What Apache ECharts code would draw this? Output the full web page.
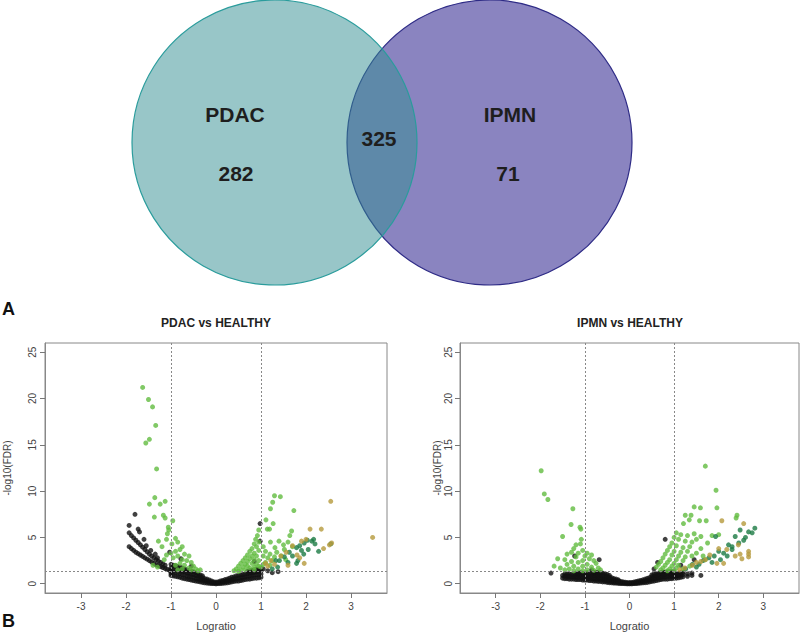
<!DOCTYPE html>
<html><head><meta charset="utf-8">
<script src="https://cdn.jsdelivr.net/npm/echarts@6/dist/echarts.min.js"></script>
<style>html,body{margin:0;padding:0;background:#fff}#c{width:800px;height:632px}</style>
</head><body><div id="c"></div>
<script>
// ---- Venn data ----
const vennSets = ['PDAC', 'IPMN'];
const vennCounts = [282, 325, 71]; // PDAC only, shared, IPMN only

// ---- Volcano plot settings ----
const panelTitles = ['PDAC vs HEALTHY', 'IPMN vs HEALTHY'];
const xTicks = [-3, -2, -1, 0, 1, 2, 3];
const yTicks = [0, 5, 10, 15, 20, 25];
const xThresholds = [-1, 1];
const yThreshold = 1.3;

// ---- PDAC vs HEALTHY ----
const pdacBlackPts = [
[-1.93,4.0],[-1.88,3.8],[-1.83,3.6],[-1.78,3.4],[-1.73,3.25],[-1.68,3.1],[-1.63,2.95],[-1.58,2.8],[-1.53,2.65],[-1.48,2.5],[-1.43,2.35],[-1.38,2.2],[-1.33,2.05],[-1.28,1.95],[-1.23,1.85],[-1.18,1.75],[-1.13,1.65],[-1.08,1.55],[-1.03,1.45],
[-1.93,5.5],[-1.88,5.2],[-1.83,4.95],[-1.78,4.7],[-1.73,4.45],[-1.68,4.2],[-1.63,3.95],[-1.58,3.7],[-1.53,3.45],[-1.48,3.2],[-1.43,3.0],[-1.38,2.8],[-1.33,2.6],[-1.28,2.45],[-1.23,2.3],[-1.18,2.15],[-1.13,2.0],
[-1.8,7.5],[-1.93,6.3],[-1.73,5.9],[-1.70,5.6],[-1.6,4.8],[-1.55,4.1],[-1.45,3.6],[-1.35,3.2],[-1.3,2.8],[-1.03,3.4],[-0.78,2.7],[-0.55,1.9],[0.98,6.5],[0.98,4.6],[0.85,2.4],[1.38,1.3],[-1.0,1.1],[1.05,1.6],[1.15,1.4],[1.25,1.2]
];
const pdacBlackCols = [
[-1.00,[0.9,1.3,1.7,2.1]],[-0.95,[0.85,1.25,1.65,2.0]],[-0.90,[0.8,1.2,1.6,1.95]],[-0.85,[0.75,1.15,1.5,1.85]],
[-0.80,[0.7,1.1,1.45,1.8]],[-0.75,[0.6,1.0,1.35,1.7]],[-0.70,[0.55,0.95,1.3,1.6]],[-0.65,[0.5,0.85,1.2,1.5]],
[-0.60,[0.45,0.8,1.15,1.45]],[-0.55,[0.4,0.75,1.05,1.35]],[-0.50,[0.35,0.7,1.0,1.3]],[-0.45,[0.3,0.6,0.9,1.2]],
[-0.40,[0.25,0.55,0.85,1.1]],[-0.35,[0.2,0.45,0.75,0.95]],[-0.30,[0.15,0.4,0.65,0.85]],[-0.25,[0.1,0.35,0.55]],
[-0.20,[0.08,0.3,0.5]],[-0.15,[0.05,0.2,0.4]],[-0.10,[0.03,0.15,0.3]],[-0.05,[0.02,0.1,0.2]],[0.00,[0.0,0.08,0.18]],
[0.05,[0.02,0.1,0.2]],[0.10,[0.03,0.15,0.3]],[0.15,[0.05,0.2,0.35]],[0.20,[0.08,0.25,0.45]],[0.25,[0.1,0.3,0.5]],
[0.30,[0.15,0.35,0.6]],[0.35,[0.2,0.45,0.7]],[0.40,[0.25,0.5,0.75]],[0.45,[0.3,0.55,0.85]],[0.50,[0.3,0.6,0.9]],
[0.55,[0.35,0.65,0.95]],[0.60,[0.4,0.7,1.0]],[0.65,[0.45,0.75,1.05]],[0.70,[0.5,0.8,1.1,1.35]],[0.75,[0.5,0.85,1.15,1.4]],
[0.80,[0.55,0.9,1.2,1.45]],[0.85,[0.6,0.95,1.25,1.5]],[0.90,[0.6,1.0,1.3,1.55]],[0.95,[0.65,1.0,1.35,1.6]],[1.00,[0.7,1.05,1.4,1.65]]
];
const pdacLightGreen = [
[-1.63,21.2],[-1.5,19.9],[-1.41,19.1],[-1.34,17.1],[-1.48,15.6],[-1.56,15.2],[-1.32,12.4],[-1.36,9.3],[-1.48,8.6],[-1.24,8.6],[-1.13,8.9],[-1.37,7.2],[-1.17,7.4],[-1.13,7.1],[-0.96,6.8],[-1.06,6.1],[-1.05,5.8],[-1.08,5.4],[-1.28,4.6],[-1.1,4.8],[-0.9,4.9],[-0.85,4.5],[-0.98,4.3],[-1.2,4.0],[-0.75,4.0],[-0.8,3.7],[-0.9,3.5],[-1.0,3.3],[-1.1,3.1],[-0.7,3.2],[-0.6,3.0],[-0.85,3.0],[-0.95,2.8],[-1.15,2.6],[-0.75,2.6],[-0.65,2.5],[-0.55,2.3],[-0.8,2.2],[-0.9,2.0],[-0.7,2.0],[-0.5,1.9],[-0.6,1.7],[-0.45,1.6],[-0.75,1.6],[-0.85,1.5],[-1.4,2.0],[-1.3,1.8],[-0.4,1.4],[-0.35,1.5],[-0.55,1.5],
[1.30,9.5],[1.43,9.4],[1.26,8.8],[1.21,8.1],[1.73,7.9],[1.11,6.9],[1.27,6.5],[1.19,5.9],[1.14,5.9],[1.68,5.7],[1.64,5.2],[1.40,4.6],[1.21,4.5],[1.31,3.9],[1.52,3.7],
[0.95,5.8],[0.92,5.2],[0.88,4.8],[0.95,4.5],[0.85,4.3],[0.9,4.0],[0.8,3.8],[0.75,3.5],[0.95,3.6],[0.85,3.3],[0.7,3.1],[0.8,3.0],[0.9,3.0],[0.65,2.8],[0.75,2.7],[0.85,2.6],[0.95,2.5],[0.6,2.5],[0.7,2.4],[0.55,2.2],[0.65,2.1],[0.8,2.2],[0.9,2.1],[0.5,1.9],[0.6,1.8],[0.7,1.9],[0.75,1.7],[0.85,1.8],[0.95,1.9],[0.45,1.6],[0.55,1.5],[0.65,1.5],[0.4,1.4],[0.5,1.35],[0.85,1.5],
[1.05,4.0],[1.1,3.5],[1.2,3.2],[1.05,3.0],[1.15,2.8],[1.3,2.9],[1.25,2.5],[1.1,2.3],[1.05,2.1],[1.35,3.4],[1.5,4.2],[1.55,2.6],[1.45,3.0],[1.0,1.8],[1.7,4.0],[1.6,4.5],[1.2,2.0]
];
const pdacDarkGreen = [
[1.79,3.9],[1.86,4.1],[1.96,4.4],[2.03,4.7],[2.13,4.6],[2.17,4.8],[1.63,3.4],[1.52,2.9],[1.41,2.5],[1.33,2.5],[1.37,1.8],[1.82,2.5],[1.79,2.2],[1.60,2.3],[2.05,3.7],[2.55,4.3],[2.28,3.5],[1.95,3.2],[1.7,3.0],[1.9,3.6],[1.25,1.6],[2.2,4.3]
];
const pdacGold = [
[2.55,8.9],[2.09,5.9],[2.34,5.9],[3.48,5.0],[2.57,4.4],[2.39,3.8],[1.90,4.6],[2.00,4.8],[1.70,4.1],[1.56,3.4],[1.44,3.0],[1.22,2.5],[1.10,2.2],[1.80,3.1],[1.96,2.2],[1.60,2.0],[1.86,2.8],[1.15,1.9],[1.3,2.1],[2.52,4.2]
];

// ---- IPMN vs HEALTHY ----
const ipmnBlackPts = [
[-1.76,1.15],[-1.23,3.0],[-0.68,2.6],[0.8,4.8],[0.63,2.3],[1.45,2.6],[1.15,2.0],[1.6,0.9],[0.55,1.6],[-0.85,1.5]
];
const ipmnBlackCols = [
[-1.50,[0.6,0.9]],[-1.45,[0.55,0.85,1.05]],[-1.40,[0.55,0.8,1.05]],[-1.35,[0.5,0.8,1.05]],[-1.30,[0.5,0.75,1.0]],
[-1.25,[0.5,0.75,1.0]],[-1.20,[0.45,0.7,0.95,1.15]],[-1.15,[0.45,0.7,0.95,1.15]],[-1.10,[0.45,0.7,0.95,1.2]],
[-1.05,[0.4,0.65,0.9,1.15]],[-1.00,[0.4,0.65,0.9,1.15]],[-0.95,[0.4,0.65,0.9,1.2]],[-0.90,[0.35,0.6,0.85,1.1]],
[-0.85,[0.35,0.6,0.85,1.1]],[-0.80,[0.3,0.55,0.8,1.05,1.25]],[-0.75,[0.3,0.55,0.8,1.05,1.25]],[-0.70,[0.25,0.5,0.75,1.0,1.2]],
[-0.65,[0.25,0.5,0.7,0.95,1.2]],[-0.60,[0.2,0.45,0.65,0.9,1.15]],[-0.55,[0.2,0.4,0.6,0.85,1.1]],[-0.50,[0.15,0.35,0.55,0.8,1.0]],
[-0.45,[0.12,0.3,0.5,0.7,0.9]],[-0.40,[0.1,0.25,0.45,0.65]],[-0.35,[0.08,0.2,0.4,0.55]],[-0.30,[0.06,0.18,0.35,0.5]],
[-0.25,[0.04,0.15,0.3,0.42]],[-0.20,[0.03,0.12,0.25]],[-0.15,[0.02,0.1,0.2]],[-0.10,[0.01,0.08,0.16]],[-0.05,[0.0,0.06,0.12]],
[0.00,[0.0,0.05,0.12]],[0.05,[0.0,0.06,0.14]],[0.10,[0.02,0.08,0.18]],[0.15,[0.03,0.12,0.24]],[0.20,[0.05,0.15,0.3]],
[0.25,[0.07,0.2,0.36]],[0.30,[0.1,0.25,0.42]],[0.35,[0.12,0.3,0.5]],[0.40,[0.15,0.35,0.58]],[0.45,[0.2,0.42,0.66]],
[0.50,[0.25,0.5,0.75,0.95]],[0.55,[0.3,0.55,0.8,1.05]],[0.60,[0.35,0.6,0.85,1.1]],[0.65,[0.4,0.65,0.9,1.15]],
[0.70,[0.45,0.7,0.95,1.2]],[0.75,[0.5,0.75,1.0,1.25]],[0.80,[0.5,0.75,1.0,1.25]],[0.85,[0.5,0.8,1.05,1.3]],
[0.90,[0.55,0.8,1.05,1.3]],[0.95,[0.55,0.8,1.05,1.3]],[1.00,[0.6,0.85,1.1,1.3]],[1.05,[0.6,0.85,1.1]],
[1.10,[0.65,0.9,1.15]],[1.15,[0.7,0.95,1.2]],[1.20,[0.75,1.0,1.2]],[1.30,[0.8,1.05]],[1.40,[0.9,1.15]]
];
const ipmnLightGreen = [
[-1.98,12.2],[-1.91,9.7],[-1.83,9.1],[-1.27,8.1],[-1.31,6.4],[-1.11,6.1],[-1.09,5.9],[-1.50,5.1],[-1.08,4.8],[-1.20,4.2],[-1.61,2.7],[-1.69,1.9],
[-1.1,4.3],[-1.25,3.8],[-1.05,3.6],[-1.15,3.3],[-0.95,3.3],[-1.3,3.4],[-1.4,3.2],[-1.0,3.0],[-0.85,3.1],[-1.2,2.9],[-1.45,2.6],[-0.9,2.7],[-1.05,2.5],[-0.8,2.5],[-1.3,2.4],[-1.15,2.3],[-0.75,2.2],[-0.95,2.1],[-1.4,2.1],[-1.25,1.9],[-1.05,1.9],[-0.85,1.8],[-0.7,1.7],[-1.55,1.7],[-1.35,1.6],[-1.15,1.6],[-0.95,1.5],[-0.65,1.5],[-1.45,1.5],[-0.8,1.45],[-1.05,1.4],[-1.25,1.4],
[1.70,12.7],[1.94,10.1],[1.96,8.2],[1.45,8.3],[1.59,8.2],[1.25,7.4],[1.38,7.4],[1.57,6.8],[1.34,6.9],[1.72,6.8],[2.41,7.4],[2.39,7.1],[1.21,6.5],
[1.05,5.5],[1.15,5.3],[1.3,5.2],[1.0,5.0],[1.45,5.4],[1.6,5.1],[1.85,5.2],[2.0,5.3],[1.1,4.8],[1.25,4.6],[0.95,4.4],[1.4,4.5],[1.5,4.8],[1.75,4.4],[0.9,4.0],[1.05,4.1],[1.2,3.9],[1.35,4.0],[1.6,3.8],[0.85,3.6],[1.0,3.5],[1.15,3.4],[1.3,3.5],[1.5,3.3],[0.8,3.2],[0.95,3.1],[1.1,3.0],[1.25,2.9],[1.4,3.0],[0.75,2.8],[0.9,2.6],[1.05,2.6],[1.2,2.5],[0.7,2.4],[0.85,2.3],[1.0,2.2],[0.65,2.1],[0.8,2.0],[0.95,1.9],[1.1,2.0],[0.6,1.8],[0.75,1.7],[0.9,1.6],[1.05,1.7],[0.7,1.5],[0.85,1.4],[1.0,1.45],[1.2,1.6],[1.35,1.9],[1.7,2.6],[1.65,3.0]
];
const ipmnDarkGreen = [
[2.81,6.0],[2.67,5.6],[2.48,5.8],[2.37,5.1],[1.93,5.1],[2.22,4.2],[2.30,4.0],[2.00,3.5],[1.78,2.8],[1.56,2.1],[1.41,2.1],[1.26,1.6],[1.85,2.3],[2.11,3.3],[2.56,4.7],[2.04,2.6],[2.19,3.0],[2.45,4.4],[2.6,5.0],[1.9,3.0],[2.3,3.7],[1.65,2.5],[1.5,1.8],[2.75,5.5]
];
const ipmnGold = [
[2.07,6.8],[2.56,6.5],[2.18,3.7],[2.44,4.2],[2.37,3.0],[2.48,3.2],[2.67,3.2],[2.67,3.5],[2.52,2.7],[2.67,2.9],[2.11,2.2],[1.96,2.2],[1.60,2.4],[1.41,2.0],[1.24,1.7],[1.13,1.5],[1.80,3.1],[2.0,3.8],[1.7,2.6],[1.5,2.3]
];

// expand column lists into [x, y] pairs (no new values created)
function expandCols(cols) {
  const out = [];
  cols.forEach(c => c[1].forEach(y => out.push([c[0], y])));
  return out;
}
const pdacBlack = pdacBlackPts.concat(expandCols(pdacBlackCols));
const ipmnBlack = ipmnBlackPts.concat(expandCols(ipmnBlackCols));

const FONT = '"Liberation Sans", Arial, Helvetica, sans-serif';
const chart = echarts.init(document.getElementById('c'), null, { renderer: 'svg' });

function makeX(gi) {
  return {
    type: 'value', gridIndex: gi, min: -3.8, max: 3.8, position: 'bottom',
    name: 'Logratio', nameLocation: 'middle', nameGap: 27,
    nameTextStyle: { fontFamily: FONT, fontSize: 11, color: '#444' },
    axisLine: { show: true, onZero: false, lineStyle: { color: '#888', width: 1 } },
    axisTick: { show: true, length: 5, customValues: xTicks, lineStyle: { color: '#777' } },
    axisLabel: { customValues: xTicks, fontFamily: FONT, fontSize: 10, color: '#444', margin: 8 },
    splitLine: { show: false }
  };
}
function makeY(gi, nameGap, labelMargin) {
  return {
    type: 'value', gridIndex: gi, min: -1, max: 26, position: 'left',
    name: '-log10(FDR)', nameLocation: 'middle', nameGap: nameGap,
    nameTextStyle: { fontFamily: FONT, fontSize: 10, color: '#444' },
    axisLine: { show: true, onZero: false, lineStyle: { color: '#888', width: 1 } },
    axisTick: { show: true, length: 5, customValues: yTicks, lineStyle: { color: '#777' } },
    axisLabel: { customValues: yTicks, rotate: 90, fontFamily: FONT, fontSize: 10, color: '#444', margin: labelMargin },
    splitLine: { show: false }
  };
}
function scatter(gi, data, color, withLines) {
  const s = {
    type: 'scatter', xAxisIndex: gi, yAxisIndex: gi, data: data,
    symbolSize: 5, itemStyle: { color: color }, silent: true
  };
  if (withLines) {
    s.markLine = {
      silent: true, symbol: 'none', label: { show: false }, animation: false,
      lineStyle: { type: [2, 2], color: '#888', width: 1 },
      data: xThresholds.map(v => ({ xAxis: v })).concat([{ yAxis: yThreshold }])
    };
  }
  return s;
}

function renderVenn(params, api) {
  const cs = params.coordSys;
  const r = cs.height / 2;
  const cy = cs.y + r;
  const lcx = cs.x + r;
  const rcx = cs.x + cs.width - r;
  const txt = (s, x, y) => ({
    type: 'text',
    style: { text: String(s), x: x, y: y, font: 'bold 21px ' + FONT, fill: '#1e1e1e',
      textAlign: 'center', textVerticalAlign: 'middle', align: 'center', verticalAlign: 'middle' }
  });
  return {
    type: 'group',
    children: [
      { type: 'circle', shape: { cx: rcx, cy: cy, r: r }, style: { fill: '#8a84c0', stroke: '#2e2b86', lineWidth: 1.2 } },
      { type: 'circle', shape: { cx: lcx, cy: cy, r: r }, style: { fill: 'rgba(49,141,145,0.5)', stroke: '#2a9c9c', lineWidth: 1.2 } },
      txt(vennSets[0], lcx - 0.277 * r, cy - 0.2 * r),
      txt(vennCounts[0], lcx - 0.27 * r, cy + 0.22 * r),
      txt(vennCounts[1], (lcx + rcx) / 2 - 3, cy - 0.03 * r),
      txt(vennSets[1], rcx + 0.144 * r, cy - 0.2 * r),
      txt(vennCounts[2], rcx + 0.13 * r, cy + 0.22 * r)
    ]
  };
}

const option = {
  animation: false,
  backgroundColor: '#fff',
  title: [
    { text: 'A', left: 2, top: 300, padding: 0, textStyle: { fontFamily: FONT, fontSize: 18, fontWeight: 'bold', color: '#111' } },
    { text: 'B', left: 2, top: 612, padding: 0, textStyle: { fontFamily: FONT, fontSize: 18, fontWeight: 'bold', color: '#111' } },
    { text: panelTitles[0], left: 216, top: 317, padding: 0, textAlign: 'center', textStyle: { fontFamily: FONT, fontSize: 12, fontWeight: 'bold', color: '#222' } },
    { text: panelTitles[1], left: 630, top: 317, padding: 0, textAlign: 'center', textStyle: { fontFamily: FONT, fontSize: 12, fontWeight: 'bold', color: '#222' } }
  ],
  grid: [
    { left: 45, top: 343, width: 342, height: 250, show: true, borderColor: '#888', borderWidth: 1, backgroundColor: 'transparent' },
    { left: 460, top: 343, width: 339, height: 250, show: true, borderColor: '#888', borderWidth: 1, backgroundColor: 'transparent' },
    { left: 132, top: 0, width: 500, height: 285 }
  ],
  xAxis: [makeX(0), makeX(1), { type: 'value', gridIndex: 2, min: 0, max: 1, show: false }],
  yAxis: [makeY(0, 33, 8), makeY(1, 16, 7), { type: 'value', gridIndex: 2, min: 0, max: 1, show: false }],
  series: [
    scatter(0, pdacBlack, '#111111', true),
    scatter(0, pdacLightGreen, '#62bb40', false),
    scatter(0, pdacDarkGreen, '#1c7a44', false),
    scatter(0, pdacGold, '#b59a3c', false),
    scatter(1, ipmnBlack, '#111111', true),
    scatter(1, ipmnLightGreen, '#62bb40', false),
    scatter(1, ipmnDarkGreen, '#1c7a44', false),
    scatter(1, ipmnGold, '#b59a3c', false),
    {
      type: 'custom', coordinateSystem: 'cartesian2d', xAxisIndex: 2, yAxisIndex: 2,
      data: [[0.5, 0.5]], renderItem: renderVenn, silent: true
    }
  ]
};
chart.setOption(option);
</script>
</body></html>
